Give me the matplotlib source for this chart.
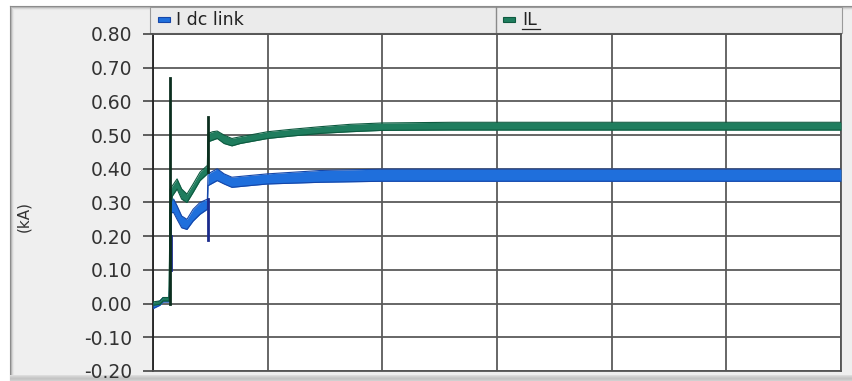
import matplotlib
matplotlib.use("Agg")
import matplotlib.pyplot as plt
from matplotlib.patches import Rectangle
from matplotlib.lines import Line2D

plt.rcParams['font.family'] = ['DejaVu Sans']
plt.rcParams['axes.unicode_minus'] = False

# ---- data (time in s, current in kA; ripple shown as lower/upper envelope) ----
t_il = [0.0, 0.03, 0.044, 0.07, 0.075, 0.085, 0.105, 0.125, 0.148, 0.175,
        0.205, 0.237, 0.240, 0.26, 0.28, 0.31, 0.344, 0.38, 0.42, 0.50,
        0.60, 0.73, 0.86, 1.0, 1.3, 3.0]
il_lo = [-0.005, -0.002, 0.008, 0.008, 0.28, 0.32, 0.34, 0.31, 0.30, 0.33,
         0.365, 0.385, 0.48, 0.485, 0.49, 0.475, 0.468, 0.475, 0.48, 0.49,
         0.497, 0.505, 0.51, 0.514, 0.515, 0.515]
il_hi = [0.005, 0.008, 0.018, 0.018, 0.34, 0.35, 0.37, 0.34, 0.325, 0.355,
         0.39, 0.41, 0.505, 0.51, 0.512, 0.50, 0.49, 0.495, 0.50, 0.51,
         0.517, 0.525, 0.532, 0.536, 0.538, 0.538]

t_dc = [0.0, 0.03, 0.044, 0.07, 0.076, 0.080, 0.09, 0.105, 0.125, 0.148,
        0.175, 0.205, 0.237, 0.240, 0.28, 0.31, 0.344, 0.42, 0.50, 0.73,
        1.0, 3.0]
dc_lo = [-0.015, -0.005, 0.005, 0.005, 0.09, 0.27, 0.27, 0.25, 0.225, 0.22,
         0.245, 0.265, 0.28, 0.35, 0.365, 0.355, 0.345, 0.35, 0.355, 0.36,
         0.363, 0.363]
dc_hi = [-0.002, 0.008, 0.018, 0.018, 0.11, 0.31, 0.31, 0.29, 0.26, 0.25,
         0.28, 0.30, 0.31, 0.385, 0.40, 0.385, 0.375, 0.38, 0.385, 0.395,
         0.399, 0.399]

# switching transients (time, from, to)
il_spikes = [(0.074, 0.0, 0.67), (0.238, 0.39, 0.555)]
dc_spikes = [(0.078, 0.10, 0.20), (0.238, 0.31, 0.19)]

series_names = ["I dc link", "IL"]
yticks = [-0.20, -0.10, 0.00, 0.10, 0.20, 0.30, 0.40, 0.50, 0.60, 0.70, 0.80]
xgrid = [0.0, 0.5, 1.0, 1.5, 2.0, 2.5, 3.0]

blue_fill, blue_edge, blue_spike = '#1f6fdc', '#1546a8', '#1a2a8c'
green_fill, green_edge, green_spike = '#1f7d5e', '#0e5a40', '#0b2e1e'

W, H = 852, 381
fig = plt.figure(figsize=(W / 100, H / 100), dpi=100, facecolor='white')

# window panel
fig.patches.append(Rectangle((10 / W, 0), 1 - 10 / W, 1 - 6 / H, transform=fig.transFigure,
                             facecolor='#efefef', edgecolor='none', zorder=-3))
for i, c in enumerate(['#8a8a8a', '#b5b5b5', '#d5d5d5', '#e6e6e6']):
    fig.lines.append(Line2D([(10 + i) / W, (10 + i) / W], [0, 1 - (6 + i) / H],
                            transform=fig.transFigure, color=c, lw=0.8, zorder=-2))
    fig.lines.append(Line2D([(10 + i) / W, 1], [1 - (6 + i) / H, 1 - (6 + i) / H],
                            transform=fig.transFigure, color=c, lw=0.8, zorder=-2))
# bottom shade
for i, c in enumerate(['#dcdcdc', '#d2d2d2', '#cacaca', '#c4c4c4', '#c8c8c8', '#d0d0d0']):
    fig.patches.append(Rectangle((10 / W, (5 - i) / H), 1 - 10 / W, 1 / H,
                                 transform=fig.transFigure, facecolor=c,
                                 edgecolor='none', zorder=-2))

# legend header strip
hx0, hx1, hy0, hy1 = 150 / W, 842 / W, 1 - 33 / H, 1 - 7 / H
fig.patches.append(Rectangle((hx0, hy0), hx1 - hx0, hy1 - hy0, transform=fig.transFigure,
                             facecolor='#ebebeb', edgecolor='#9a9a9a', lw=0.8, zorder=1))
fig.lines.append(Line2D([496 / W, 496 / W], [hy0, hy1], transform=fig.transFigure,
                        color='#8a8a8a', lw=1.0, zorder=2))
fig.patches.append(Rectangle((158 / W, 1 - 22 / H), 12 / W, 5 / H, transform=fig.transFigure,
                             facecolor=blue_fill, edgecolor=blue_edge, lw=0.8, zorder=2))
fig.text(176 / W, 1 - 20 / H, series_names[0], fontsize=12.5, color='#222222',
         va='center', ha='left', zorder=3)
fig.patches.append(Rectangle((503 / W, 1 - 22 / H), 12 / W, 5 / H, transform=fig.transFigure,
                             facecolor=green_fill, edgecolor=green_edge, lw=0.8, zorder=2))
fig.text(522 / W, 1 - 20 / H, series_names[1], fontsize=12.5, color='#222222',
         va='center', ha='left', zorder=3)
fig.lines.append(Line2D([522 / W, 540 / W], [1 - 29 / H, 1 - 29 / H], transform=fig.transFigure,
                        color='#222222', lw=0.9, zorder=3))

ax = fig.add_axes([153 / W, 1 - 371 / H, (841 - 153) / W, (371 - 34) / H])
ax.set_zorder(5)
ax.set_facecolor('white')
ax.set_xlim(0, 3.0)
ax.set_ylim(-0.20, 0.80)

ax.set_xticks(xgrid)
ax.set_xticklabels([])
ax.tick_params(axis='x', length=0)
ax.set_yticks(yticks)
ax.set_yticklabels([f'{v:.2f}' for v in yticks], fontsize=13.5, color='#333333')
ax.tick_params(axis='y', length=7, width=1.2, color='#444444', pad=8)
ax.grid(True, color='#5a5a5a', lw=1.3)
ax.set_axisbelow(True)
for s in ax.spines.values():
    s.set_color('#555555')
    s.set_linewidth(1.3)
ax.spines['left'].set_color('#222222')

# unit label on the left of the value axis
fig.text(24 / W, 1 - 216 / H, '(kA)', fontsize=11, color='#333333', rotation=90,
         ha='center', va='center')

# I dc link
ax.fill_between(t_dc, dc_lo, dc_hi, color=blue_fill, lw=0, zorder=3)
ax.plot(t_dc, dc_lo, color=blue_edge, lw=0.8, zorder=3.1)
ax.plot(t_dc, dc_hi, color=blue_edge, lw=0.8, zorder=3.1)
for ts, y0, y1 in dc_spikes:
    ax.plot([ts, ts], [y0, y1], color=blue_spike, lw=2.0, zorder=3.2)

# IL
ax.fill_between(t_il, il_lo, il_hi, color=green_fill, lw=0, zorder=4)
ax.plot(t_il, il_lo, color=green_edge, lw=0.8, zorder=4.1)
ax.plot(t_il, il_hi, color=green_edge, lw=0.8, zorder=4.1)
for ts, y0, y1 in il_spikes:
    ax.plot([ts, ts], [y0, y1], color=green_spike, lw=2.0, zorder=4.2)

fig.savefig('out.png', dpi=100, facecolor=fig.get_facecolor())
